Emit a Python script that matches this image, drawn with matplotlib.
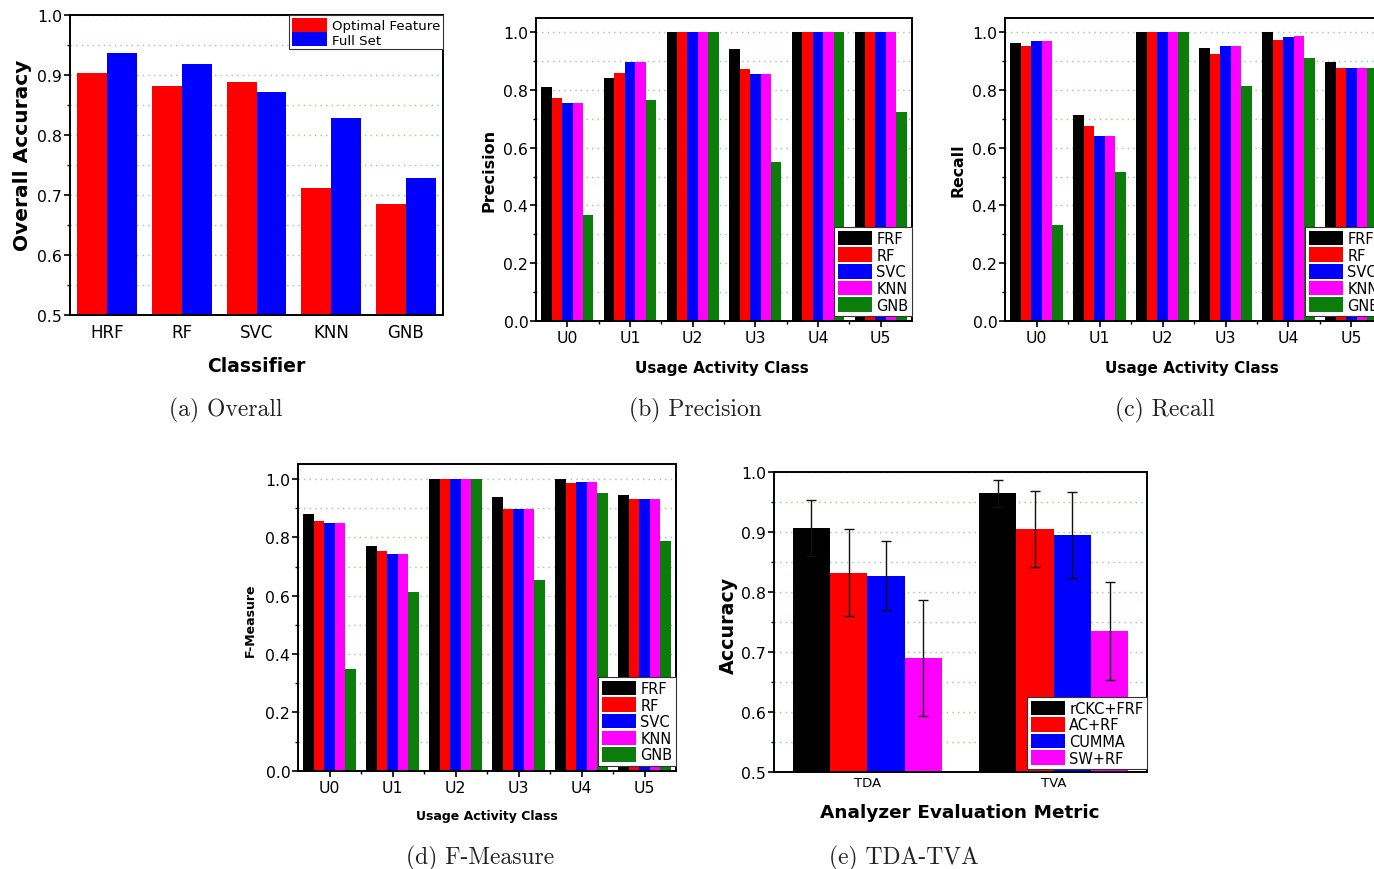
import matplotlib
matplotlib.use("Agg")
import matplotlib.pyplot as plt
import numpy as np
from matplotlib.ticker import MultipleLocator, FormatStrFormatter

# ---------------- data ----------------
classifiers = ['HRF', 'RF', 'SVC', 'KNN', 'GNB']
overall_optimal = [0.904, 0.881, 0.888, 0.711, 0.685]
overall_full = [0.936, 0.918, 0.871, 0.828, 0.729]

classes = ['U0', 'U1', 'U2', 'U3', 'U4', 'U5']
models = ['FRF', 'RF', 'SVC', 'KNN', 'GNB']

precision_frf = [0.809, 0.842, 1.0, 0.942, 1.0, 1.0]
precision_rf = [0.773, 0.859, 1.0, 0.873, 1.0, 1.0]
precision_svc = [0.756, 0.898, 1.0, 0.854, 1.0, 1.0]
precision_knn = [0.756, 0.898, 1.0, 0.854, 1.0, 1.0]
precision_gnb = [0.366, 0.765, 1.0, 0.549, 1.0, 0.723]

recall_frf = [0.964, 0.715, 1.0, 0.944, 1.0, 0.898]
recall_rf = [0.953, 0.676, 1.0, 0.925, 0.973, 0.875]
recall_svc = [0.971, 0.639, 1.0, 0.953, 0.985, 0.875]
recall_knn = [0.971, 0.639, 1.0, 0.953, 0.987, 0.875]
recall_gnb = [0.331, 0.516, 1.0, 0.814, 0.910, 0.875]

fmeasure_frf = [0.879, 0.771, 1.0, 0.939, 1.0, 0.945]
fmeasure_rf = [0.857, 0.752, 1.0, 0.897, 0.985, 0.931]
fmeasure_svc = [0.848, 0.743, 1.0, 0.897, 0.991, 0.931]
fmeasure_knn = [0.848, 0.743, 1.0, 0.897, 0.991, 0.931]
fmeasure_gnb = [0.349, 0.614, 1.0, 0.654, 0.952, 0.789]

metrics = ['TDA', 'TVA']
analyzers = ['rCKC+FRF', 'AC+RF', 'CUMMA', 'SW+RF']
acc_rckc = [0.907, 0.965]
err_rckc = [0.046, 0.022]
acc_acrf = [0.833, 0.906]
err_acrf = [0.072, 0.063]
acc_cumma = [0.828, 0.896]
err_cumma = [0.057, 0.072]
acc_swrf = [0.691, 0.736]
err_swrf = [0.097, 0.082]

# ---------------- style ----------------
BLACK, RED, BLUE, MAG, GREEN = '#000000', '#ff0000', '#0000ff', '#ff00ff', '#0a7d0a'
model_colors = [BLACK, RED, BLUE, MAG, GREEN]
GRID = '#8fcf8f'

plt.rcParams['font.family'] = ['DejaVu Sans']

W, H = 1374, 870
fig = plt.figure(figsize=(W / 100, H / 100), dpi=100)


def add_axes(l, t, r, b):
    return fig.add_axes([l / W, 1 - b / H, (r - l) / W, (b - t) / H])


def style_axes(ax, ymaj, ymin, ytick_fs, xtick_fs):
    ax.yaxis.set_major_locator(MultipleLocator(ymaj))
    ax.yaxis.set_minor_locator(MultipleLocator(ymin))
    ax.yaxis.set_major_formatter(FormatStrFormatter('%.1f'))
    ax.grid(True, which='both', axis='y', color=GRID, linestyle=(0, (1, 3)), linewidth=1.0)
    ax.set_axisbelow(True)
    for s in ax.spines.values():
        s.set_linewidth(1.4)
    ax.tick_params(axis='y', which='major', direction='out', length=4, width=1.2, pad=1.5, labelsize=ytick_fs)
    ax.tick_params(axis='y', which='minor', direction='out', length=2.5, width=1.0)
    ax.tick_params(axis='x', which='major', direction='out', length=4, width=1.2, pad=3, labelsize=xtick_fs)
    ax.tick_params(axis='x', which='minor', direction='out', length=2.5, width=1.0)


def label_at(ax, which, text, px, py, fs):
    # place axis label centre at figure pixel (px, py)
    bb = ax.get_position()
    ax_l, ax_b = bb.x0 * W, (1 - bb.y0) * H
    ax_w, ax_h = bb.width * W, bb.height * H
    xa = (px - ax_l) / ax_w
    ya = (ax_b - py) / ax_h
    if which == 'x':
        ax.set_xlabel(text, fontsize=fs, fontweight='bold', va='center', ha='center')
        ax.xaxis.set_label_coords(xa, ya)
    else:
        ax.set_ylabel(text, fontsize=fs, fontweight='bold', va='center', ha='center')
        ax.yaxis.set_label_coords(xa, ya)


def grouped_legend(ax, loc, bbox, fs, hl, hh, ls):
    leg = ax.legend(loc=loc, bbox_to_anchor=bbox, fontsize=fs, handlelength=hl, handleheight=hh,
                    labelspacing=ls, handletextpad=0.3, borderpad=0.25, borderaxespad=0,
                    fancybox=False, framealpha=1, edgecolor='#333333')
    leg.get_frame().set_linewidth(0.8)
    return leg


# ---------------- (a) Overall ----------------
ax = add_axes(70, 16, 443, 316)
x = np.arange(len(classifiers))
w = 0.4
ax.bar(x - w / 2, overall_optimal, w, color=RED, label='Optimal Feature', linewidth=0)
ax.bar(x + w / 2, overall_full, w, color=BLUE, label='Full Set', linewidth=0)
ax.set_xlim(-0.5, len(classifiers) - 0.5)
ax.set_ylim(0.5, 1.0)
ax.set_xticks(x)
ax.set_xticklabels(classifiers)
style_axes(ax, 0.1, 0.05, 11.3, 12)
ax.tick_params(axis='x', which='major', length=0, pad=6)
label_at(ax, 'x', 'Classifier', 256, 366, 13.5)
label_at(ax, 'y', 'Overall Accuracy', 22, 155, 14.5)
leg = ax.legend(loc='upper right', bbox_to_anchor=(1, 1), fontsize=9.6, handlelength=2.6, handleheight=1.25,
                labelspacing=0, handletextpad=0.4, borderpad=0.2, borderaxespad=0,
                fancybox=False, framealpha=1, edgecolor='#333333')
leg.get_frame().set_linewidth(0.8)


# ---------------- helpers for per-class panels ----------------
def class_panel(rect, series, ylabel, ylabel_pos, xlabel_pos, ylabel_fs, xlabel_fs, tick_fs):
    ax = add_axes(*rect)
    xc = np.arange(len(classes))
    bw = 0.166
    for i, (name, vals) in enumerate(zip(models, series)):
        ax.bar(xc + (i - 2) * bw, vals, bw, color=model_colors[i], label=name, linewidth=0)
    ax.set_xlim(-0.5, len(classes) - 0.5)
    ax.set_ylim(0, 1.05)
    ax.set_xticks(xc)
    ax.set_xticks(xc[:-1] + 0.5, minor=True)
    ax.set_xticklabels(classes)
    style_axes(ax, 0.2, 0.1, tick_fs, tick_fs)
    label_at(ax, 'y', ylabel, *ylabel_pos, ylabel_fs)
    label_at(ax, 'x', 'Usage Activity Class', *xlabel_pos, xlabel_fs)
    grouped_legend(ax, 'lower right', (1, 0.015), 10.5, 2.35, 1.15, 0.1)
    return ax


# (b) Precision
class_panel((536, 18.9, 912, 321.7),
            [precision_frf, precision_rf, precision_svc, precision_knn, precision_gnb],
            'Precision', (489, 170), (722, 369), 11.5, 11, 11.3)

# (c) Recall
class_panel((1005, 18.9, 1383, 321.7),
            [recall_frf, recall_rf, recall_svc, recall_knn, recall_gnb],
            'Recall', (958, 170), (1192, 369), 11.3, 11, 11.3)

# (d) F-Measure
class_panel((298, 465.4, 676, 771.7),
            [fmeasure_frf, fmeasure_rf, fmeasure_svc, fmeasure_knn, fmeasure_gnb],
            'F-Measure', (250, 620), (487, 817), 9, 9, 11.3)

# ---------------- (e) TDA-TVA ----------------
ax = add_axes(774, 473.3, 1147, 773.3)
xm = np.arange(len(metrics))
bw = 0.2
e_series = [(acc_rckc, err_rckc), (acc_acrf, err_acrf), (acc_cumma, err_cumma), (acc_swrf, err_swrf)]
e_colors = [BLACK, RED, BLUE, MAG]
for i, ((vals, errs), name) in enumerate(zip(e_series, analyzers)):
    ax.bar(xm + (i - 1.5) * bw, vals, bw, color=e_colors[i], label=name, linewidth=0,
           yerr=errs, error_kw=dict(ecolor='#111111', elinewidth=1.0, capsize=3.5, capthick=1.0))
ax.set_xlim(-0.5, 1.5)
ax.set_ylim(0.5, 1.0)
ax.set_xticks(xm)
ax.set_xticklabels(metrics)
style_axes(ax, 0.1, 0.05, 11.3, 9.5)
ax.tick_params(axis='x', which='major', length=0, pad=3)
label_at(ax, 'y', 'Accuracy', 728, 625, 13.7)
label_at(ax, 'x', 'Analyzer Evaluation Metric', 960, 813, 13.3)
grouped_legend(ax, 'lower right', (1, 0.01), 10.5, 2.35, 1.15, 0.1)

# ---------------- captions ----------------
cap_kw = dict(fontfamily='cmr10', fontsize=17, color='#222222', ha='center', va='center')
fig.text(226 / W, 1 - 410 / H, '(a) Overall', **cap_kw)
fig.text(695 / W, 1 - 410 / H, '(b) Precision', **cap_kw)
fig.text(1165 / W, 1 - 410 / H, '(c) Recall', **cap_kw)
fig.text(480 / W, 1 - 858 / H, '(d) F-Measure', **cap_kw)
fig.text(904 / W, 1 - 858 / H, '(e) TDA-TVA', **cap_kw)

fig.savefig('out.png', dpi=100, facecolor='white')
